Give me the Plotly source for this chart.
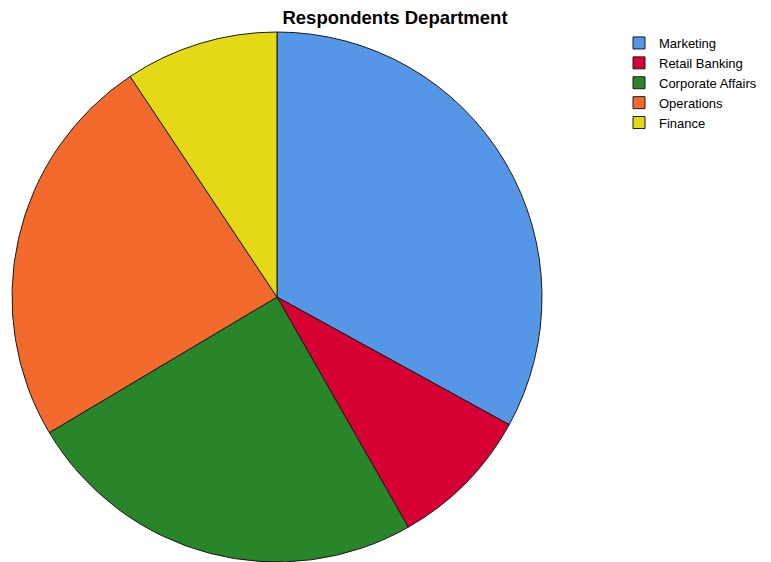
import plotly.graph_objects as go

categories = ["Marketing", "Retail Banking", "Corporate Affairs", "Operations", "Finance"]
values = [33.0, 8.75, 24.7, 24.2, 9.35]
colors = ["#5596E6", "#D60032", "#298529", "#F26A2C", "#E3D914"]

W, H = 771, 562
OFF = 8  # page body margin offset

fig = go.Figure(go.Pie(
    labels=categories,
    values=values,
    sort=False,
    direction="clockwise",
    rotation=0,
    textinfo="none",
    hoverinfo="label+percent",
    marker=dict(colors=colors, line=dict(color="#1a1a1a", width=1)),
    domain=dict(x=[(12 - OFF) / W, (542 - OFF) / W],
                y=[OFF / H, (H - 32 + OFF) / H]),
))
fig.update_layout(
    width=W, height=H,
    margin=dict(l=0, r=0, t=0, b=0),
    paper_bgcolor="white",
    font=dict(family="Liberation Sans, Arial, sans-serif", color="#000000"),
    title=dict(text="<b>Respondents Department</b>", x=(395 - OFF) / W, xanchor="center",
               y=1 - (18 - OFF) / H, yanchor="middle", font=dict(size=18.5)),
    legend=dict(x=(619 - OFF) / W, y=1 - (28 - OFF) / H, xanchor="left", yanchor="top",
                font=dict(size=13), tracegroupgap=0, bgcolor="rgba(0,0,0,0)",
                borderwidth=0),
)
fig.write_html("out.html")
